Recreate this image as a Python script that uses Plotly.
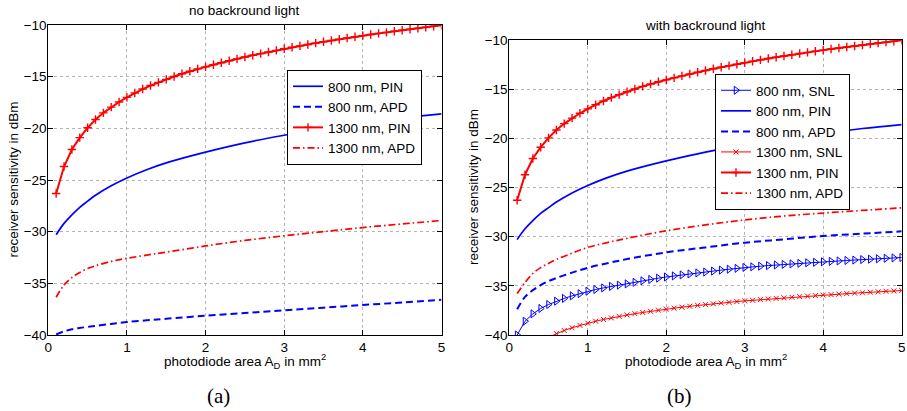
import plotly.graph_objects as go

# ---------------------------------------------------------------------------
# Data: receiver sensitivity (dBm) versus photodiode area (mm^2)
# ---------------------------------------------------------------------------
# Dense grid used for the series drawn with markers
area_fine = [0.1, 0.2, 0.3, 0.4, 0.5, 0.6, 0.7, 0.8, 0.9, 1.0,
             1.1, 1.2, 1.3, 1.4, 1.5, 1.6, 1.7, 1.8, 1.9, 2.0,
             2.1, 2.2, 2.3, 2.4, 2.5, 2.6, 2.7, 2.8, 2.9, 3.0,
             3.1, 3.2, 3.3, 3.4, 3.5, 3.6, 3.7, 3.8, 3.9, 4.0,
             4.1, 4.2, 4.3, 4.4, 4.5, 4.6, 4.7, 4.8, 4.9, 5.0]

# Coarser grid for the smooth (marker-free) curves
area_coarse = [0.1, 0.2, 0.3, 0.4, 0.5, 0.6, 0.8, 1.0, 1.25, 1.5,
               2.0, 2.5, 3.0, 3.5, 4.0, 4.5, 5.0]

pin_1300 = [-26.3, -23.7, -22.05, -20.9, -19.95, -19.15, -18.5, -17.95, -17.45, -17.0,
            -16.58, -16.2, -15.86, -15.55, -15.26, -14.98, -14.72, -14.48, -14.25, -14.05,
            -13.85, -13.65, -13.46, -13.28, -13.1, -12.93, -12.77, -12.61, -12.46, -12.3,
            -12.16, -12.02, -11.88, -11.75, -11.62, -11.5, -11.38, -11.26, -11.14, -11.03,
            -10.92, -10.81, -10.71, -10.61, -10.51, -10.41, -10.31, -10.22, -10.12, -10.03]

snl_800 = [-40.0, -38.6, -37.85, -37.3, -36.9, -36.56, -36.28, -36.02, -35.8, -35.55,
           -35.37, -35.21, -35.06, -34.93, -34.8, -34.64, -34.49, -34.35, -34.22, -34.1,
           -33.99, -33.89, -33.79, -33.69, -33.6, -33.5, -33.4, -33.31, -33.22, -33.13,
           -33.07, -33.0, -32.94, -32.88, -32.82, -32.77, -32.71, -32.66, -32.61, -32.56,
           -32.51, -32.47, -32.42, -32.38, -32.33, -32.29, -32.25, -32.2, -32.16, -32.12]

snl_1300 = [-43.55, -42.12, -41.28, -40.69, -40.23, -39.85, -39.54, -39.26, -39.02, -38.8,
            -38.6, -38.42, -38.26, -38.11, -37.96, -37.83, -37.71, -37.59, -37.48, -37.37,
            -37.27, -37.17, -37.08, -36.99, -36.91, -36.83, -36.75, -36.68, -36.6, -36.53,
            -36.47, -36.4, -36.34, -36.28, -36.22, -36.16, -36.1, -36.05, -35.99, -35.94,
            -35.89, -35.84, -35.79, -35.74, -35.7, -35.65, -35.61, -35.56, -35.52, -35.48]

pin_800 = [-30.3, -29.2, -28.37, -27.64, -27.05, -26.48, -25.56, -24.8, -24.0, -23.34,
           -22.3, -21.4, -20.67, -20.03, -19.49, -19.0, -18.6]

# Without background light
apd_800_dark = [-39.95, -39.65, -39.45, -39.32, -39.22, -39.12, -38.93, -38.75, -38.58, -38.43,
                -38.13, -37.88, -37.62, -37.36, -37.1, -36.85, -36.6]
apd_1300_dark = [-36.35, -35.15, -34.45, -33.95, -33.57, -33.3, -32.88, -32.58, -32.27, -31.98,
                 -31.38, -30.85, -30.4, -30.0, -29.6, -29.25, -28.92]

# With background light
apd_800_bg = [-37.38, -36.12, -35.44, -34.93, -34.52, -34.2, -33.66, -33.16, -32.7, -32.28,
              -31.6, -31.09, -30.61, -30.27, -29.93, -29.69, -29.46]
apd_1300_bg = [-35.78, -34.66, -33.74, -33.15, -32.72, -32.32, -31.68, -31.09, -30.6, -30.17,
               -29.4, -28.8, -28.3, -27.9, -27.6, -27.33, -27.06]

y_ticks = [-40, -35, -30, -25, -20, -15, -10]
x_ticks = [0, 1, 2, 3, 4, 5]

# ---------------------------------------------------------------------------
BLUE = "rgb(0,0,255)"
RED = "rgb(255,0,0)"
FONT = "Liberation Sans, Arial, Helvetica, sans-serif"
FS = 13.5
W, H = 907, 411


def px_x(p):
    return p / W


def px_y(p):
    return 1 - p / H


fig = go.Figure()


def line_trace(x, y, name, color, width, dash, xa, ya, legend, marker=None, shape="spline"):
    kw = dict(x=x, y=y, name=name, mode="lines", xaxis=xa, yaxis=ya, legend=legend,
              line=dict(color=color, width=width, dash=dash, shape=shape))
    if marker is not None:
        kw["mode"] = "lines+markers"
        kw["marker"] = marker
        kw["line"]["shape"] = "linear"
    return go.Scatter(**kw)


plus_marker = dict(symbol="cross-thin", size=6, color=RED, line=dict(color=RED, width=1.4))
tri_marker = dict(symbol="triangle-right-open", size=7, color=BLUE, line=dict(color=BLUE, width=1))
x_marker = dict(symbol="x-thin", size=5, color=RED, line=dict(color=RED, width=1))

# Panel (a): no background light
fig.add_trace(line_trace(area_coarse, pin_800, "800 nm, PIN", BLUE, 1.7, "solid", "x", "y", "legend"))
fig.add_trace(line_trace(area_coarse, apd_800_dark, "800 nm, APD", BLUE, 2, "7px,4px", "x", "y", "legend"))
fig.add_trace(line_trace(area_fine, pin_1300, "1300 nm, PIN", RED, 2, "solid", "x", "y", "legend",
                         marker=plus_marker))
fig.add_trace(line_trace(area_coarse, apd_1300_dark, "1300 nm, APD", RED, 1.7, "7px,3px,1.5px,3px",
                         "x", "y", "legend"))

# Panel (b): with background light
fig.add_trace(line_trace(area_fine, snl_800, "800 nm, SNL", BLUE, 1, "solid", "x2", "y2", "legend2",
                         marker=tri_marker))
fig.add_trace(line_trace(area_coarse, pin_800, "800 nm, PIN", BLUE, 1.7, "solid", "x2", "y2", "legend2"))
fig.add_trace(line_trace(area_coarse, apd_800_bg, "800 nm, APD", BLUE, 2, "7px,4px", "x2", "y2", "legend2"))
fig.add_trace(line_trace(area_fine, snl_1300, "1300 nm, SNL", RED, 1, "solid", "x2", "y2", "legend2",
                         marker=x_marker))
fig.add_trace(line_trace(area_fine, pin_1300, "1300 nm, PIN", RED, 2, "solid", "x2", "y2", "legend2",
                         marker=plus_marker))
fig.add_trace(line_trace(area_coarse, apd_1300_bg, "1300 nm, APD", RED, 1.7, "7px,3px,1.5px,3px",
                         "x2", "y2", "legend2"))

axis_common = dict(
    showline=True, linecolor="black", linewidth=1, mirror="allticks",
    ticks="inside", ticklen=5, tickwidth=1, tickcolor="black",
    showgrid=True, gridcolor="#b4b4b4", gridwidth=1, griddash="dot",
    zeroline=False, automargin=False,
    tickfont=dict(family=FONT, size=FS, color="black"),
)

left_dom_x = [px_x(48.3), px_x(441.5)]
right_dom_x = [px_x(509.3), px_x(901.7)]
left_dom_y = [px_y(335), px_y(25)]
right_dom_y = [px_y(335), px_y(40)]

legend_style = dict(xanchor="left", yanchor="top", bgcolor="white", bordercolor="black",
                    borderwidth=1, font=dict(family=FONT, size=FS, color="black"), itemwidth=30)

fig.update_layout(
    width=W, height=H,
    margin=dict(l=0, r=0, t=0, b=0),
    paper_bgcolor="white", plot_bgcolor="white",
    font=dict(family=FONT, size=FS, color="black"),
    xaxis=dict(domain=left_dom_x, range=[0, 5], tickvals=x_ticks, anchor="y", **axis_common),
    yaxis=dict(domain=left_dom_y, range=[-40, -10], tickvals=y_ticks, anchor="x",
               ticklabelstandoff=-2, **axis_common),
    xaxis2=dict(domain=right_dom_x, range=[0, 5], tickvals=x_ticks, anchor="y2", **axis_common),
    yaxis2=dict(domain=right_dom_y, range=[-40, -10], tickvals=y_ticks, anchor="x2",
                ticklabelstandoff=-2, **axis_common),
    legend=dict(x=px_x(287), y=px_y(70), **legend_style),
    legend2=dict(x=px_x(715), y=px_y(74), **legend_style),
    showlegend=True,
)

annotations = [
    # panel titles
    dict(text="no backround light", x=px_x(244.5), y=px_y(11)),
    dict(text="with backround light", x=px_x(705.5), y=px_y(25.7)),
    # axis titles
    dict(text="photodiode area A<sub>D</sub> in mm<sup>2</sup>", x=px_x(244.5), y=px_y(361)),
    dict(text="photodiode area A<sub>D</sub> in mm<sup>2</sup>", x=px_x(705.5), y=px_y(361)),
    dict(text="receiver sensitivity in dBm", x=px_x(12.5), y=px_y(180), textangle=-90),
    dict(text="receiver sensitivity in dBm", x=px_x(473.5), y=px_y(187.5), textangle=-90),
]
for a in annotations:
    a.update(xref="paper", yref="paper", showarrow=False, xanchor="center", yanchor="middle",
             font=dict(family=FONT, size=FS, color="black"))

# panel captions
for txt, cx in (("(a)", 218.5), ("(b)", 679)):
    annotations.append(dict(text=txt, x=px_x(cx), y=px_y(396), xref="paper", yref="paper",
                            showarrow=False, xanchor="center", yanchor="middle",
                            font=dict(family="Liberation Serif, Times New Roman, serif",
                                      size=21, color="black")))

fig.update_layout(annotations=annotations)

fig.write_html("out.html")
